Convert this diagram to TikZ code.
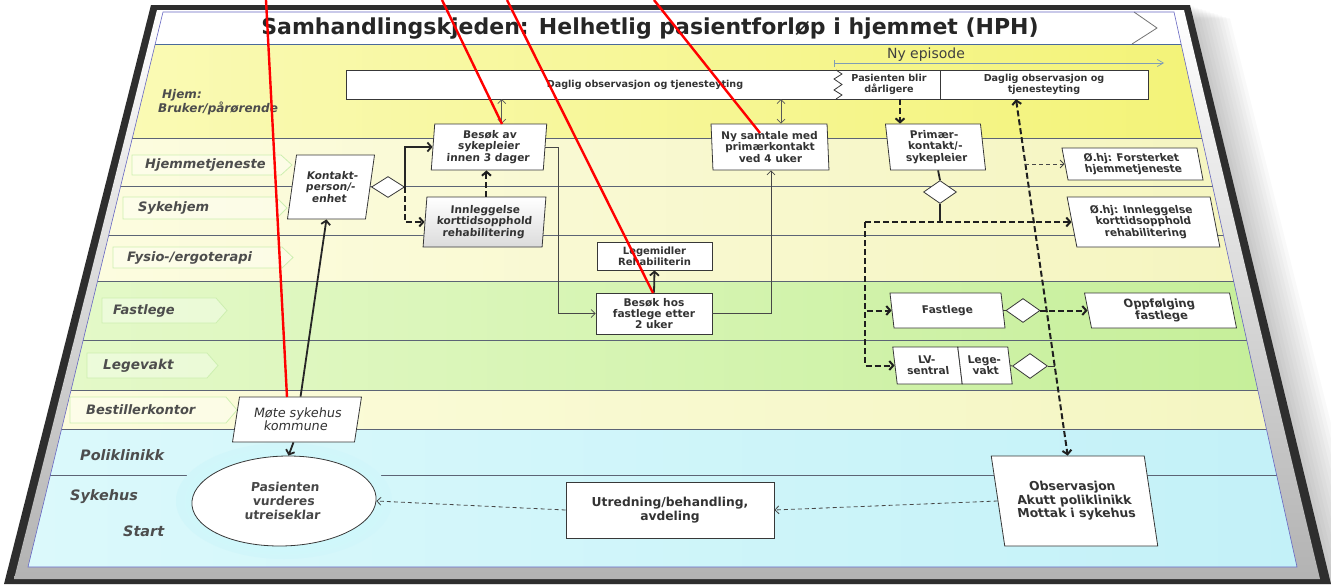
\documentclass[tikz,border=0pt]{standalone}
\usepackage{fontspec}
\setmainfont{DejaVu Sans}
\usetikzlibrary{shapes.geometric,arrows.meta,calc}
\definecolor{txt}{HTML}{333333}
\definecolor{lanetxt}{HTML}{4D4D4D}
\definecolor{lanelc}{HTML}{5C6475}
\definecolor{hjemL}{HTML}{FAFAB4}
\definecolor{hjemR}{HTML}{F3F378}
\definecolor{paleL}{HTML}{FCFCDF}
\definecolor{paleR}{HTML}{F5F5C0}
\definecolor{grnL}{HTML}{E4F9C8}
\definecolor{grnR}{HTML}{C6EF9A}
\definecolor{bestL}{HTML}{FCFCDC}
\definecolor{bestR}{HTML}{F4F6C2}
\definecolor{cyL}{HTML}{DBF9FB}
\definecolor{cyR}{HTML}{C3F1F8}
\definecolor{tagln}{HTML}{CDEFB0}
\definecolor{episode}{HTML}{7F9DB5}
\definecolor{framec}{HTML}{2E2E2E}
\definecolor{titleln}{HTML}{4A6A9A}
\newcommand{\tagshape}[4]{\filldraw[tagsty] (#1,#3) -- ({#2-11},#3) -- (#2,{(#3+#4)/2}) -- ({#2-11},#4) -- (#1,#4) -- cycle;}
\begin{document}
\begin{tikzpicture}[x=1pt,y=-1pt,
  box/.style={draw=black!78, line width=0.8pt, fill=white, align=center, text=txt, inner sep=0pt},
  fa/.style={font=\fontsize{9.6}{10.4}\selectfont\bfseries},
  fb/.style={font=\fontsize{10.6}{11.4}\selectfont\bfseries},
  fc/.style={font=\fontsize{12.3}{13.6}\selectfont\bfseries},
  diam/.style={diamond, draw=black!78, line width=0.8pt, fill=white, inner sep=0pt},
  tip/.style={-{Straight Barb[length=4pt,width=9pt]}},
  thinarr/.style={draw=black!72, line width=0.7pt, -{Straight Barb[length=4pt,width=8pt]}},
  dblarr/.style={draw=black!65, line width=0.7pt, {Straight Barb[length=4pt,width=8pt]}-{Straight Barb[length=4pt,width=8pt]}},
  thickarr/.style={draw=black!85, line width=1.8pt, tip},
  thickline/.style={draw=black!85, line width=1.8pt},
  thickdash/.style={draw=black!88, line width=2pt, dash pattern=on 6pt off 3pt},
  thindash/.style={draw=black!72, line width=0.8pt, dash pattern=on 4pt off 3pt, -{Straight Barb[length=4pt,width=8pt]}},
  tagsty/.style={draw=tagln, line width=0.8pt, fill=white, fill opacity=0.35},
  lanelbl/.style={anchor=west, text=lanetxt, inner sep=0pt, font=\fontsize{13}{13}\selectfont\bfseries\itshape},
  laneline/.style={draw=lanelc, line width=0.7pt},
  redln/.style={draw=red, line width=2.4pt}
]
\useasboundingbox (0,0) rectangle (1331,584);
% shadow
\foreach \d in {4,8,...,40}{
  \fill[black,opacity=0.025] ({151+\d},{5+\d/3}) -- ({1190+\d},{5+\d/3}) -- ({1331+\d},584) -- ({4+\d},584) -- cycle;}
% frame
\fill[framec] (151,5) -- (1190,5) -- (1331,584) -- (4,584) -- cycle;
\shade[top color=white, bottom color=black!30] (157,10) -- (1184,10) -- (1320,579) -- (14,579) -- cycle;
% lanes
\fill[white] (163,12) -- (1174,12) -- (1181.1,44) -- (155.2,44) -- cycle;
\shade[left color=hjemL, right color=hjemR] (155.2,44) -- (1181.1,44) -- (1201.9,138) -- (132.4,138) -- cycle;
\shade[left color=paleL, right color=paleR] (132.4,138) -- (1201.9,138) -- (1233.6,281) -- (97.6,281) -- cycle;
\shade[left color=grnL, right color=grnR] (97.6,281) -- (1233.6,281) -- (1257.8,390) -- (71.1,390) -- cycle;
\shade[left color=bestL, right color=bestR] (71.1,390) -- (1257.8,390) -- (1266.4,429) -- (61.6,429) -- cycle;
\shade[left color=cyL, right color=cyR] (61.6,429) -- (1266.4,429) -- (1297,567) -- (28,567) -- cycle;
\draw[draw=titleln, line width=0.8pt] (155.2,44) -- (1181.1,44);
\draw[draw=black!55, line width=0.8pt] (1134,12) -- (1157,28) -- (1132,44);
\draw[laneline] (132.4,138) -- (1201.9,138);
\draw[laneline] (120.7,186) -- (1212.6,186);
\draw[laneline] (108.8,235) -- (1223.4,235);
\draw[laneline] (97.6,281) -- (1233.6,281);
\draw[laneline] (83.2,340) -- (1246.7,340);
\draw[laneline] (71.1,390) -- (1257.8,390);
\draw[laneline] (61.6,429) -- (1266.4,429);
\draw[laneline] (50.4,475) -- (1276.6,475);
\draw[draw=black!40!blue!60, line width=0.6pt] (163,12) -- (1174,12) -- (1297,567) -- (28,567) -- cycle;
% lane tags
\tagshape{132}{292}{155}{175}
\tagshape{123}{287}{197}{219}
\tagshape{113}{293}{247}{268}
\tagshape{102}{227}{298}{323}
\tagshape{87}{218}{353}{378}
\tagshape{70}{237}{397}{423}
\node[lanelbl, font=\fontsize{12}{12}\selectfont\bfseries\itshape] (lhjem) at (162,95) {Hjem:};
\node[lanelbl, font=\fontsize{12}{12}\selectfont\bfseries\itshape] (lbruk) at (158,108) {Bruker/pårørende};
\node[lanelbl] (lhjt) at (145,165) {Hjemmetjeneste};
\node[lanelbl] (lsyh) at (138,208) {Sykehjem};
\node[lanelbl] (lfys) at (127,258) {Fysio-/ergoterapi};
\node[lanelbl] (lfas) at (113,311) {Fastlege};
\node[lanelbl, font=\fontsize{13.6}{13.6}\selectfont\bfseries\itshape] (lleg) at (103,366) {Legevakt};
\node[lanelbl] (lbes) at (86,410) {Bestillerkontor};
\node[lanelbl, font=\fontsize{14.4}{14.4}\selectfont\bfseries\itshape] (lpol) at (80,455) {Poliklinikk};
\node[lanelbl, font=\fontsize{14.4}{14.4}\selectfont\bfseries\itshape] (lsyk) at (70,497) {Sykehus};
\node[lanelbl, font=\fontsize{14.4}{14.4}\selectfont\bfseries\itshape] (lsta) at (123,531) {Start};
% title
\node[text=black!85, inner sep=0pt, font=\fontsize{22}{22}\selectfont\bfseries] (title) at (650,28.5) {Samhandlingskjeden: Helhetlig pasientforløp i hjemmet (HPH)};
% ny episode
\coordinate (neL) at (834,63);
\coordinate (neR) at (1164,63);
\draw[draw=episode, line width=0.7pt, {Bar[width=7pt]}-{Straight Barb[length=6pt,width=7pt]}] (neL) -- (neR);
\node[text=black!75, inner sep=0pt, font=\fontsize{14}{14}\selectfont] (nyep) at (926,55) {Ny episode};
% top box
\draw[draw=black!78, line width=0.8pt, fill=white] (346,70) rectangle (1148,99);
\draw[draw=black!78, line width=0.8pt] (836,70) -- (842,74) -- (834,79) -- (842,84.5) -- (834,90) -- (842,95) -- (836,99);
\draw[draw=black!78, line width=0.8pt] (940,70) -- (940,99);
\node[minimum width=488pt, minimum height=29pt, inner sep=0pt] (dagL) at (590,84.5) {};
\node[text=txt, inner sep=0pt, fa] (dagtxt) at (645,84.5) {Daglig observasjon og tjenesteyting};
\node[align=center, text=txt, inner sep=0pt, fa, minimum width=98pt, minimum height=29pt] (dagP) at (889,84.5) {Pasienten blir\\dårligere};
\node[align=center, text=txt, inner sep=0pt, fa, minimum width=208pt, minimum height=29pt] (dagR) at (1044,84.5) {Daglig observasjon og\\tjenesteyting};
% glow
\shade[inner color=cyan!22!white, outer color=cyL!60!cyR] (284,501) ellipse [x radius=108pt, y radius=58pt];
% nodes
\node[box, fb, minimum width=78pt, minimum height=64pt, xslant=0.141] (kontakt) at (331,187) {Kontakt-\\person/-\\enhet};
\node[diam, minimum width=33pt, minimum height=21pt] (kdiam) at (388,187) {};
\node[box, fb, minimum width=112pt, minimum height=46pt, xslant=0.075] (besok1) at (489,147) {Besøk av\\sykepleier\\innen 3 dager};
\node[box, fb, minimum width=119pt, minimum height=50pt, xslant=0.077, top color=white, bottom color=black!14] (innl) at (484.5,222) {Innleggelse\\korttidsopphold\\rehabilitering};
\node[box, font=\fontsize{10}{10.6}\selectfont\bfseries, minimum width=115pt, minimum height=28pt] (legem) at (654.5,256) {Legemidler\\Rehabiliterin};
\node[box, fb, minimum width=116pt, minimum height=41pt] (besok2) at (654,313.5) {Besøk hos\\fastlege etter\\2 uker};
\node[box, fb, minimum width=116pt, minimum height=46pt, xslant=-0.042] (nysam) at (770,147) {Ny samtale med\\primærkontakt\\ved 4 uker};
\node[box, fb, minimum width=95pt, minimum height=46pt, xslant=-0.11] (primer) at (935.5,147) {Primær-\\kontakt/-\\sykepleier};
\node[diam, minimum width=33pt, minimum height=23pt] (pdiam) at (940,192) {};
\node[box, fb, minimum width=135pt, minimum height=32pt, xslant=-0.19] (ohj1) at (1132.5,164) {Ø.hj: Forsterket\\hjemmetjeneste};
\node[box, fb, minimum width=143pt, minimum height=50pt, xslant=-0.195] (ohj2) at (1143.5,222) {Ø.hj: Innleggelse\\korttidsopphold\\rehabilitering};
\node[box, fb, minimum width=111pt, minimum height=35pt, xslant=-0.115] (fastl) at (947.5,310.5) {Fastlege};
\node[diam, minimum width=34pt, minimum height=24pt] (fdiam) at (1023,310.5) {};
\node[box, font=\fontsize{11.4}{12.2}\selectfont\bfseries, minimum width=145pt, minimum height=35pt, xslant=-0.2] (oppf) at (1160.5,310.5) {Oppfølging\\fastlege};
\node[box, fb, minimum width=65pt, minimum height=37pt, xslant=-0.12] (lv) at (927.5,365.5) {LV-\\sentral};
\node[box, fb, minimum width=50pt, minimum height=37pt, xslant=-0.12] (lege) at (985,365.5) {Lege-\\vakt};
\node[diam, minimum width=35pt, minimum height=25pt] (ldiam) at (1030,366) {};
\node[box, font=\fontsize{12.8}{13.4}\selectfont, minimum width=122pt, minimum height=45pt, xslant=0.155] (mote) at (297,419.5) {Møte sykehus\\kommune};
\node[box, ellipse, fc, text=black!72, minimum width=184pt, minimum height=90pt, xslant=0.1] (ellip) at (284,501) {Pasienten\\vurderes\\utreiseklar};
\node[box, fc, minimum width=208pt, minimum height=56pt] (utred) at (670,510) {Utredning/behandling,\\avdeling};
\node[box, fc, minimum width=153pt, minimum height=90pt, xslant=-0.15] (obs) at (1074.5,501) {Observasjon\\Akutt poliklinikk\\Mottak i sykehus};
% connectors
\coordinate (d1b) at ([xshift=11pt]besok1.north);
\draw[dblarr] (d1b) -- (d1b |- dagL.south);
\coordinate (d2b) at ([xshift=12pt]nysam.north);
\draw[dblarr] (d2b) -- (d2b |- dagL.south);
\coordinate (d3t) at ([xshift=11pt]dagP.south);
\draw[thickdash, tip] (d3t) -- (d3t |- primer.north);
\coordinate (d4t) at ([xshift=-28pt]dagR.south);
\draw[thickdash, {Straight Barb[length=4pt,width=9pt]}-{Straight Barb[length=4pt,width=9pt]}] (d4t) -- (obs.north);
\draw[thickarr] (mote.north) -- (kontakt.south);
\draw[thickarr] (kdiam.east) |- (besok1.west);
\draw[thickdash, tip] (kdiam.east) |- (innl.west);
\draw[thickdash, tip] (innl.north) -- (innl.north |- besok1.south);
\draw[thinarr] (besok1.east) -- ++(13,0) |- (besok2.west);
\draw[thickarr] (besok2.north) -- (legem.south);
\draw[thinarr] (besok2.east) -| (nysam.south);
\draw[thickline] (primer.south) -- (pdiam.north);
\coordinate (hsplit) at (940,222);
\coordinate (vtop) at (865,222);
\draw[thickline] (pdiam.south) -- (hsplit);
\draw[thickdash, tip] (vtop) -- (ohj2.west);
\draw[thickdash, tip] (vtop) |- (fastl.west);
\draw[thickdash, tip] (vtop) |- (lv.west);
\draw[draw=black!78, line width=0.8pt] (fastl.east) -- (fdiam.west);
\draw[thickdash, tip] (fdiam.east) -- (oppf.west);
\draw[draw=black!78, line width=0.8pt] (lege.east) -- (ldiam.west);
\coordinate (ljoin) at (1055,366);
\draw[draw=black!78, line width=0.8pt] (ldiam.east) -- (ljoin);
\coordinate (fjoin) at (1025,164);
\draw[thindash] (fjoin) -- (ohj1.west);
\draw[thindash] (obs.west) -- (utred.east);
\draw[thindash] (utred.west) -- (ellip.east);
\draw[thickarr] (mote.south) -- (ellip.north);
% red lines
\coordinate (r1a) at (266,0); \coordinate (r1b) at (287,397);
\coordinate (r2a) at (442,0); \coordinate (r2b) at (502,124);
\coordinate (r3a) at (507,0); \coordinate (r3b) at (653,293);
\coordinate (r4a) at (654,0); \coordinate (r4b) at (760,133);
\draw[redln] (r1a) -- (r1b);
\draw[redln] (r2a) -- (r2b);
\draw[redln] (r3a) -- (r3b);
\draw[redln] (r4a) -- (r4b);
\end{tikzpicture}
\end{document}
